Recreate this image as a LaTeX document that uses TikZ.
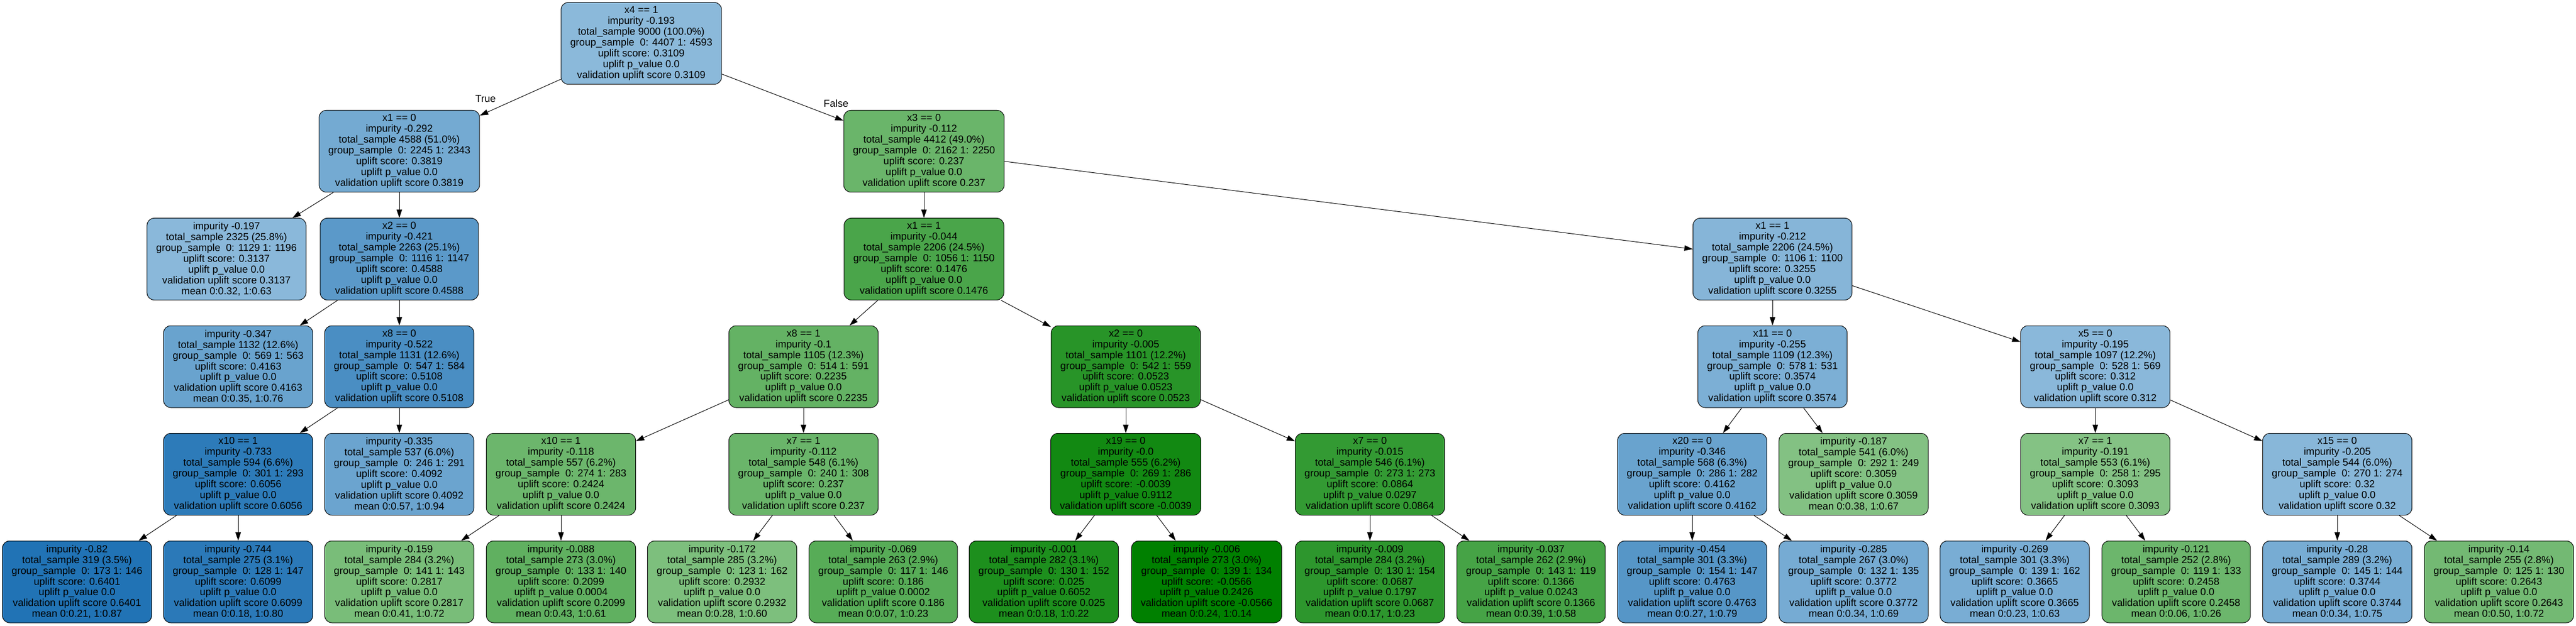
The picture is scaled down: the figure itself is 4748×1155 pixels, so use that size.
\documentclass[tikz,border=0pt]{standalone}
\usepackage{fontspec}
\setmainfont{Liberation Sans}
\usetikzlibrary{arrows.meta}

\definecolor{bluelo}{RGB}{139,185,218}
\definecolor{bluehi}{RGB}{33,115,181}
\definecolor{greenlo}{RGB}{132,194,132}
\definecolor{greenhi}{RGB}{0,128,0}

\tikzset{every picture/.style={line width=0.75pt}}
\tikzset{
  treenode/.style={draw, rounded corners=10pt, align=center, minimum height=113.25pt,
    inner xsep=12.75pt, inner ysep=0pt, font=\fontsize{14}{14.9}\selectfont},
  treeedge/.style={-{Triangle[length=11.5pt,width=7.5pt]}},
  edgelabel/.style={inner sep=0.75pt, font=\fontsize{14}{14.9}\selectfont}
}

\begin{document}
\begin{tikzpicture}[x=0.75pt,y=0.75pt,yscale=-1]
\useasboundingbox (0,0) rectangle (4748,1155);

% Level 0
\draw (1182,80) node (r) [treenode, fill=bluelo] {x4 == 1\\impurity -0.193\\total\_sample 9000 (100.0\%)\\group\_sample\ \ 0: 4407 1: 4593\\uplift score: 0.3109\\uplift p\_value 0.0\\validation uplift score 0.3109};

% Level 1
\draw (736,279) node (rt) [treenode, fill=bluehi!22!bluelo] {x1 == 0\\impurity -0.292\\total\_sample 4588 (51.0\%)\\group\_sample\ \ 0: 2245 1: 2343\\uplift score: 0.3819\\uplift p\_value 0.0\\validation uplift score 0.3819};
\draw (1703,279) node (rf) [treenode, fill=greenhi!20!greenlo] {x3 == 0\\impurity -0.112\\total\_sample 4412 (49.0\%)\\group\_sample\ \ 0: 2162 1: 2250\\uplift score: 0.237\\uplift p\_value 0.0\\validation uplift score 0.237};

% Level 2
\draw (417.5,478) node (rtt) [treenode, fill=bluehi!1!bluelo] {impurity -0.197\\total\_sample 2325 (25.8\%)\\group\_sample\ \ 0: 1129 1: 1196\\uplift score: 0.3137\\uplift p\_value 0.0\\validation uplift score 0.3137\\mean 0:0.32, 1:0.63};
\draw (736,478) node (rtf) [treenode, fill=bluehi!45!bluelo] {x2 == 0\\impurity -0.421\\total\_sample 2263 (25.1\%)\\group\_sample\ \ 0: 1116 1: 1147\\uplift score: 0.4588\\uplift p\_value 0.0\\validation uplift score 0.4588};
\draw (1703,478) node (rft) [treenode, fill=greenhi!44!greenlo] {x1 == 1\\impurity -0.044\\total\_sample 2206 (24.5\%)\\group\_sample\ \ 0: 1056 1: 1150\\uplift score: 0.1476\\uplift p\_value 0.0\\validation uplift score 0.1476};
\draw (3267,478) node (rff) [treenode, fill=bluehi!5!bluelo] {x1 == 1\\impurity -0.212\\total\_sample 2206 (24.5\%)\\group\_sample\ \ 0: 1106 1: 1100\\uplift score: 0.3255\\uplift p\_value 0.0\\validation uplift score 0.3255};

% Level 3
\draw (439,676.5) node (rtft) [treenode, fill=bluehi!32!bluelo] {impurity -0.347\\total\_sample 1132 (12.6\%)\\group\_sample\ \ 0: 569 1: 563\\uplift score: 0.4163\\uplift p\_value 0.0\\validation uplift score 0.4163\\mean 0:0.35, 1:0.76};
\draw (736,676.5) node (rtff) [treenode, fill=bluehi!61!bluelo] {x8 == 0\\impurity -0.522\\total\_sample 1131 (12.6\%)\\group\_sample\ \ 0: 547 1: 584\\uplift score: 0.5108\\uplift p\_value 0.0\\validation uplift score 0.5108};
\draw (1481,676.5) node (rftt) [treenode, fill=greenhi!24!greenlo] {x8 == 1\\impurity -0.1\\total\_sample 1105 (12.3\%)\\group\_sample\ \ 0: 514 1: 591\\uplift score: 0.2235\\uplift p\_value 0.0\\validation uplift score 0.2235};
\draw (2075,676.5) node (rftf) [treenode, fill=greenhi!70!greenlo] {x2 == 0\\impurity -0.005\\total\_sample 1101 (12.2\%)\\group\_sample\ \ 0: 542 1: 559\\uplift score: 0.0523\\uplift p\_value 0.0523\\validation uplift score 0.0523};
\draw (3267,676.5) node (rfft) [treenode, fill=bluehi!14!bluelo] {x11 == 0\\impurity -0.255\\total\_sample 1109 (12.3\%)\\group\_sample\ \ 0: 578 1: 531\\uplift score: 0.3574\\uplift p\_value 0.0\\validation uplift score 0.3574};
\draw (3862,676.5) node (rfff) [treenode, fill=bluehi!1!bluelo] {x5 == 0\\impurity -0.195\\total\_sample 1097 (12.2\%)\\group\_sample\ \ 0: 528 1: 569\\uplift score: 0.312\\uplift p\_value 0.0\\validation uplift score 0.312};

% Level 4
\draw (439,875) node (rtfft) [treenode, fill=bluehi!89!bluelo] {x10 == 1\\impurity -0.733\\total\_sample 594 (6.6\%)\\group\_sample\ \ 0: 301 1: 293\\uplift score: 0.6056\\uplift p\_value 0.0\\validation uplift score 0.6056};
\draw (736,875) node (rtfff) [treenode, fill=bluehi!30!bluelo] {impurity -0.335\\total\_sample 537 (6.0\%)\\group\_sample\ \ 0: 246 1: 291\\uplift score: 0.4092\\uplift p\_value 0.0\\validation uplift score 0.4092\\mean 0:0.57, 1:0.94};
\draw (1034,875) node (rfttt) [treenode, fill=greenhi!18!greenlo] {x10 == 1\\impurity -0.118\\total\_sample 557 (6.2\%)\\group\_sample\ \ 0: 274 1: 283\\uplift score: 0.2424\\uplift p\_value 0.0\\validation uplift score 0.2424};
\draw (1481,875) node (rfttf) [treenode, fill=greenhi!20!greenlo] {x7 == 1\\impurity -0.112\\total\_sample 548 (6.1\%)\\group\_sample\ \ 0: 240 1: 308\\uplift score: 0.237\\uplift p\_value 0.0\\validation uplift score 0.237};
\draw (2075,875) node (rftft) [treenode, fill=greenhi!86!greenlo] {x19 == 0\\impurity -0.0\\total\_sample 555 (6.2\%)\\group\_sample\ \ 0: 269 1: 286\\uplift score: -0.0039\\uplift p\_value 0.9112\\validation uplift score -0.0039};
\draw (2525,875) node (rftff) [treenode, fill=greenhi!61!greenlo] {x7 == 0\\impurity -0.015\\total\_sample 546 (6.1\%)\\group\_sample\ \ 0: 273 1: 273\\uplift score: 0.0864\\uplift p\_value 0.0297\\validation uplift score 0.0864};
\draw (3119,875) node (rfftt) [treenode, fill=bluehi!32!bluelo] {x20 == 0\\impurity -0.346\\total\_sample 568 (6.3\%)\\group\_sample\ \ 0: 286 1: 282\\uplift score: 0.4162\\uplift p\_value 0.0\\validation uplift score 0.4162};
\draw (3416.5,875) node (rfftf) [treenode, fill=greenhi!1!greenlo] {impurity -0.187\\total\_sample 541 (6.0\%)\\group\_sample\ \ 0: 292 1: 249\\uplift score: 0.3059\\uplift p\_value 0.0\\validation uplift score 0.3059\\mean 0:0.38, 1:0.67};
\draw (3862,875) node (rffft) [treenode, fill=greenlo] {x7 == 1\\impurity -0.191\\total\_sample 553 (6.1\%)\\group\_sample\ \ 0: 258 1: 295\\uplift score: 0.3093\\uplift p\_value 0.0\\validation uplift score 0.3093};
\draw (4308,875) node (rffff) [treenode, fill=bluehi!3!bluelo] {x15 == 0\\impurity -0.205\\total\_sample 544 (6.0\%)\\group\_sample\ \ 0: 270 1: 274\\uplift score: 0.32\\uplift p\_value 0.0\\validation uplift score 0.32};

% Level 5
\draw (142,1073.5) node (rtfftt) [treenode, fill=bluehi] {impurity -0.82\\total\_sample 319 (3.5\%)\\group\_sample\ \ 0: 173 1: 146\\uplift score: 0.6401\\uplift p\_value 0.0\\validation uplift score 0.6401\\mean 0:0.21, 1:0.87};
\draw (439,1073.5) node (rtfftf) [treenode, fill=bluehi!91!bluelo] {impurity -0.744\\total\_sample 275 (3.1\%)\\group\_sample\ \ 0: 128 1: 147\\uplift score: 0.6099\\uplift p\_value 0.0\\validation uplift score 0.6099\\mean 0:0.18, 1:0.80};
\draw (736,1073.5) node (rftttt) [treenode, fill=greenhi!8!greenlo] {impurity -0.159\\total\_sample 284 (3.2\%)\\group\_sample\ \ 0: 141 1: 143\\uplift score: 0.2817\\uplift p\_value 0.0\\validation uplift score 0.2817\\mean 0:0.41, 1:0.72};
\draw (1034,1073.5) node (rftttf) [treenode, fill=greenhi!27!greenlo] {impurity -0.088\\total\_sample 273 (3.0\%)\\group\_sample\ \ 0: 133 1: 140\\uplift score: 0.2099\\uplift p\_value 0.0004\\validation uplift score 0.2099\\mean 0:0.43, 1:0.61};
\draw (1331,1073.5) node (rfttft) [treenode, fill=greenhi!5!greenlo] {impurity -0.172\\total\_sample 285 (3.2\%)\\group\_sample\ \ 0: 123 1: 162\\uplift score: 0.2932\\uplift p\_value 0.0\\validation uplift score 0.2932\\mean 0:0.28, 1:0.60};
\draw (1628,1073.5) node (rfttff) [treenode, fill=greenhi!34!greenlo] {impurity -0.069\\total\_sample 263 (2.9\%)\\group\_sample\ \ 0: 117 1: 146\\uplift score: 0.186\\uplift p\_value 0.0002\\validation uplift score 0.186\\mean 0:0.07, 1:0.23};
\draw (1924,1073.5) node (rftftt) [treenode, fill=greenhi!78!greenlo] {impurity -0.001\\total\_sample 282 (3.1\%)\\group\_sample\ \ 0: 130 1: 152\\uplift score: 0.025\\uplift p\_value 0.6052\\validation uplift score 0.025\\mean 0:0.18, 1:0.22};
\draw (2224,1073.5) node (rftftf) [treenode, fill=greenhi] {impurity -0.006\\total\_sample 273 (3.0\%)\\group\_sample\ \ 0: 139 1: 134\\uplift score: -0.0566\\uplift p\_value 0.2426\\validation uplift score -0.0566\\mean 0:0.24, 1:0.14};
\draw (2525,1073.5) node (rftfft) [treenode, fill=greenhi!66!greenlo] {impurity -0.009\\total\_sample 284 (3.2\%)\\group\_sample\ \ 0: 130 1: 154\\uplift score: 0.0687\\uplift p\_value 0.1797\\validation uplift score 0.0687\\mean 0:0.17, 1:0.23};
\draw (2822,1073.5) node (rftfff) [treenode, fill=greenhi!47!greenlo] {impurity -0.037\\total\_sample 262 (2.9\%)\\group\_sample\ \ 0: 143 1: 119\\uplift score: 0.1366\\uplift p\_value 0.0243\\validation uplift score 0.1366\\mean 0:0.39, 1:0.58};
\draw (3119,1073.5) node (rffttt) [treenode, fill=bluehi!50!bluelo] {impurity -0.454\\total\_sample 301 (3.3\%)\\group\_sample\ \ 0: 154 1: 147\\uplift score: 0.4763\\uplift p\_value 0.0\\validation uplift score 0.4763\\mean 0:0.27, 1:0.79};
\draw (3416.5,1073.5) node (rffttf) [treenode, fill=bluehi!20!bluelo] {impurity -0.285\\total\_sample 267 (3.0\%)\\group\_sample\ \ 0: 132 1: 135\\uplift score: 0.3772\\uplift p\_value 0.0\\validation uplift score 0.3772\\mean 0:0.34, 1:0.69};
\draw (3713.5,1073.5) node (rffftt) [treenode, fill=bluehi!17!bluelo] {impurity -0.269\\total\_sample 301 (3.3\%)\\group\_sample\ \ 0: 139 1: 162\\uplift score: 0.3665\\uplift p\_value 0.0\\validation uplift score 0.3665\\mean 0:0.23, 1:0.63};
\draw (4011,1073.5) node (rffftf) [treenode, fill=greenhi!18!greenlo] {impurity -0.121\\total\_sample 252 (2.8\%)\\group\_sample\ \ 0: 119 1: 133\\uplift score: 0.2458\\uplift p\_value 0.0\\validation uplift score 0.2458\\mean 0:0.06, 1:0.26};
\draw (4308,1073.5) node (rfffft) [treenode, fill=bluehi!19!bluelo] {impurity -0.28\\total\_sample 289 (3.2\%)\\group\_sample\ \ 0: 145 1: 144\\uplift score: 0.3744\\uplift p\_value 0.0\\validation uplift score 0.3744\\mean 0:0.34, 1:0.75};
\draw (4606,1073.5) node (rfffff) [treenode, fill=greenhi!13!greenlo] {impurity -0.14\\total\_sample 255 (2.8\%)\\group\_sample\ \ 0: 125 1: 130\\uplift score: 0.2643\\uplift p\_value 0.0\\validation uplift score 0.2643\\mean 0:0.50, 1:0.72};

% Straight Lines
\draw [treeedge] (r) -- (rt);
\draw [treeedge] (r) -- (rf);
\draw [treeedge] (rt) -- (rtt);
\draw [treeedge] (rt) -- (rtf);
\draw [treeedge] (rf) -- (rft);
\draw [treeedge] (rf) -- (rff);
\draw [treeedge] (rtf) -- (rtft);
\draw [treeedge] (rtf) -- (rtff);
\draw [treeedge] (rft) -- (rftt);
\draw [treeedge] (rft) -- (rftf);
\draw [treeedge] (rff) -- (rfft);
\draw [treeedge] (rff) -- (rfff);
\draw [treeedge] (rtff) -- (rtfft);
\draw [treeedge] (rtff) -- (rtfff);
\draw [treeedge] (rftt) -- (rfttt);
\draw [treeedge] (rftt) -- (rfttf);
\draw [treeedge] (rftf) -- (rftft);
\draw [treeedge] (rftf) -- (rftff);
\draw [treeedge] (rfft) -- (rfftt);
\draw [treeedge] (rfft) -- (rfftf);
\draw [treeedge] (rfff) -- (rffft);
\draw [treeedge] (rfff) -- (rffff);
\draw [treeedge] (rtfft) -- (rtfftt);
\draw [treeedge] (rtfft) -- (rtfftf);
\draw [treeedge] (rfttt) -- (rftttt);
\draw [treeedge] (rfttt) -- (rftttf);
\draw [treeedge] (rfttf) -- (rfttft);
\draw [treeedge] (rfttf) -- (rfttff);
\draw [treeedge] (rftft) -- (rftftt);
\draw [treeedge] (rftft) -- (rftftf);
\draw [treeedge] (rftff) -- (rftfft);
\draw [treeedge] (rftff) -- (rftfff);
\draw [treeedge] (rfftt) -- (rffttt);
\draw [treeedge] (rfftt) -- (rffttf);
\draw [treeedge] (rffft) -- (rffftt);
\draw [treeedge] (rffft) -- (rffftf);
\draw [treeedge] (rffff) -- (rfffft);
\draw [treeedge] (rffff) -- (rfffff);

% Text Node
\draw (895,182) node (ltrue) [edgelabel] {True};
% Text Node
\draw (1541,191) node (lfalse) [edgelabel] {False};

\end{tikzpicture}
\end{document}
